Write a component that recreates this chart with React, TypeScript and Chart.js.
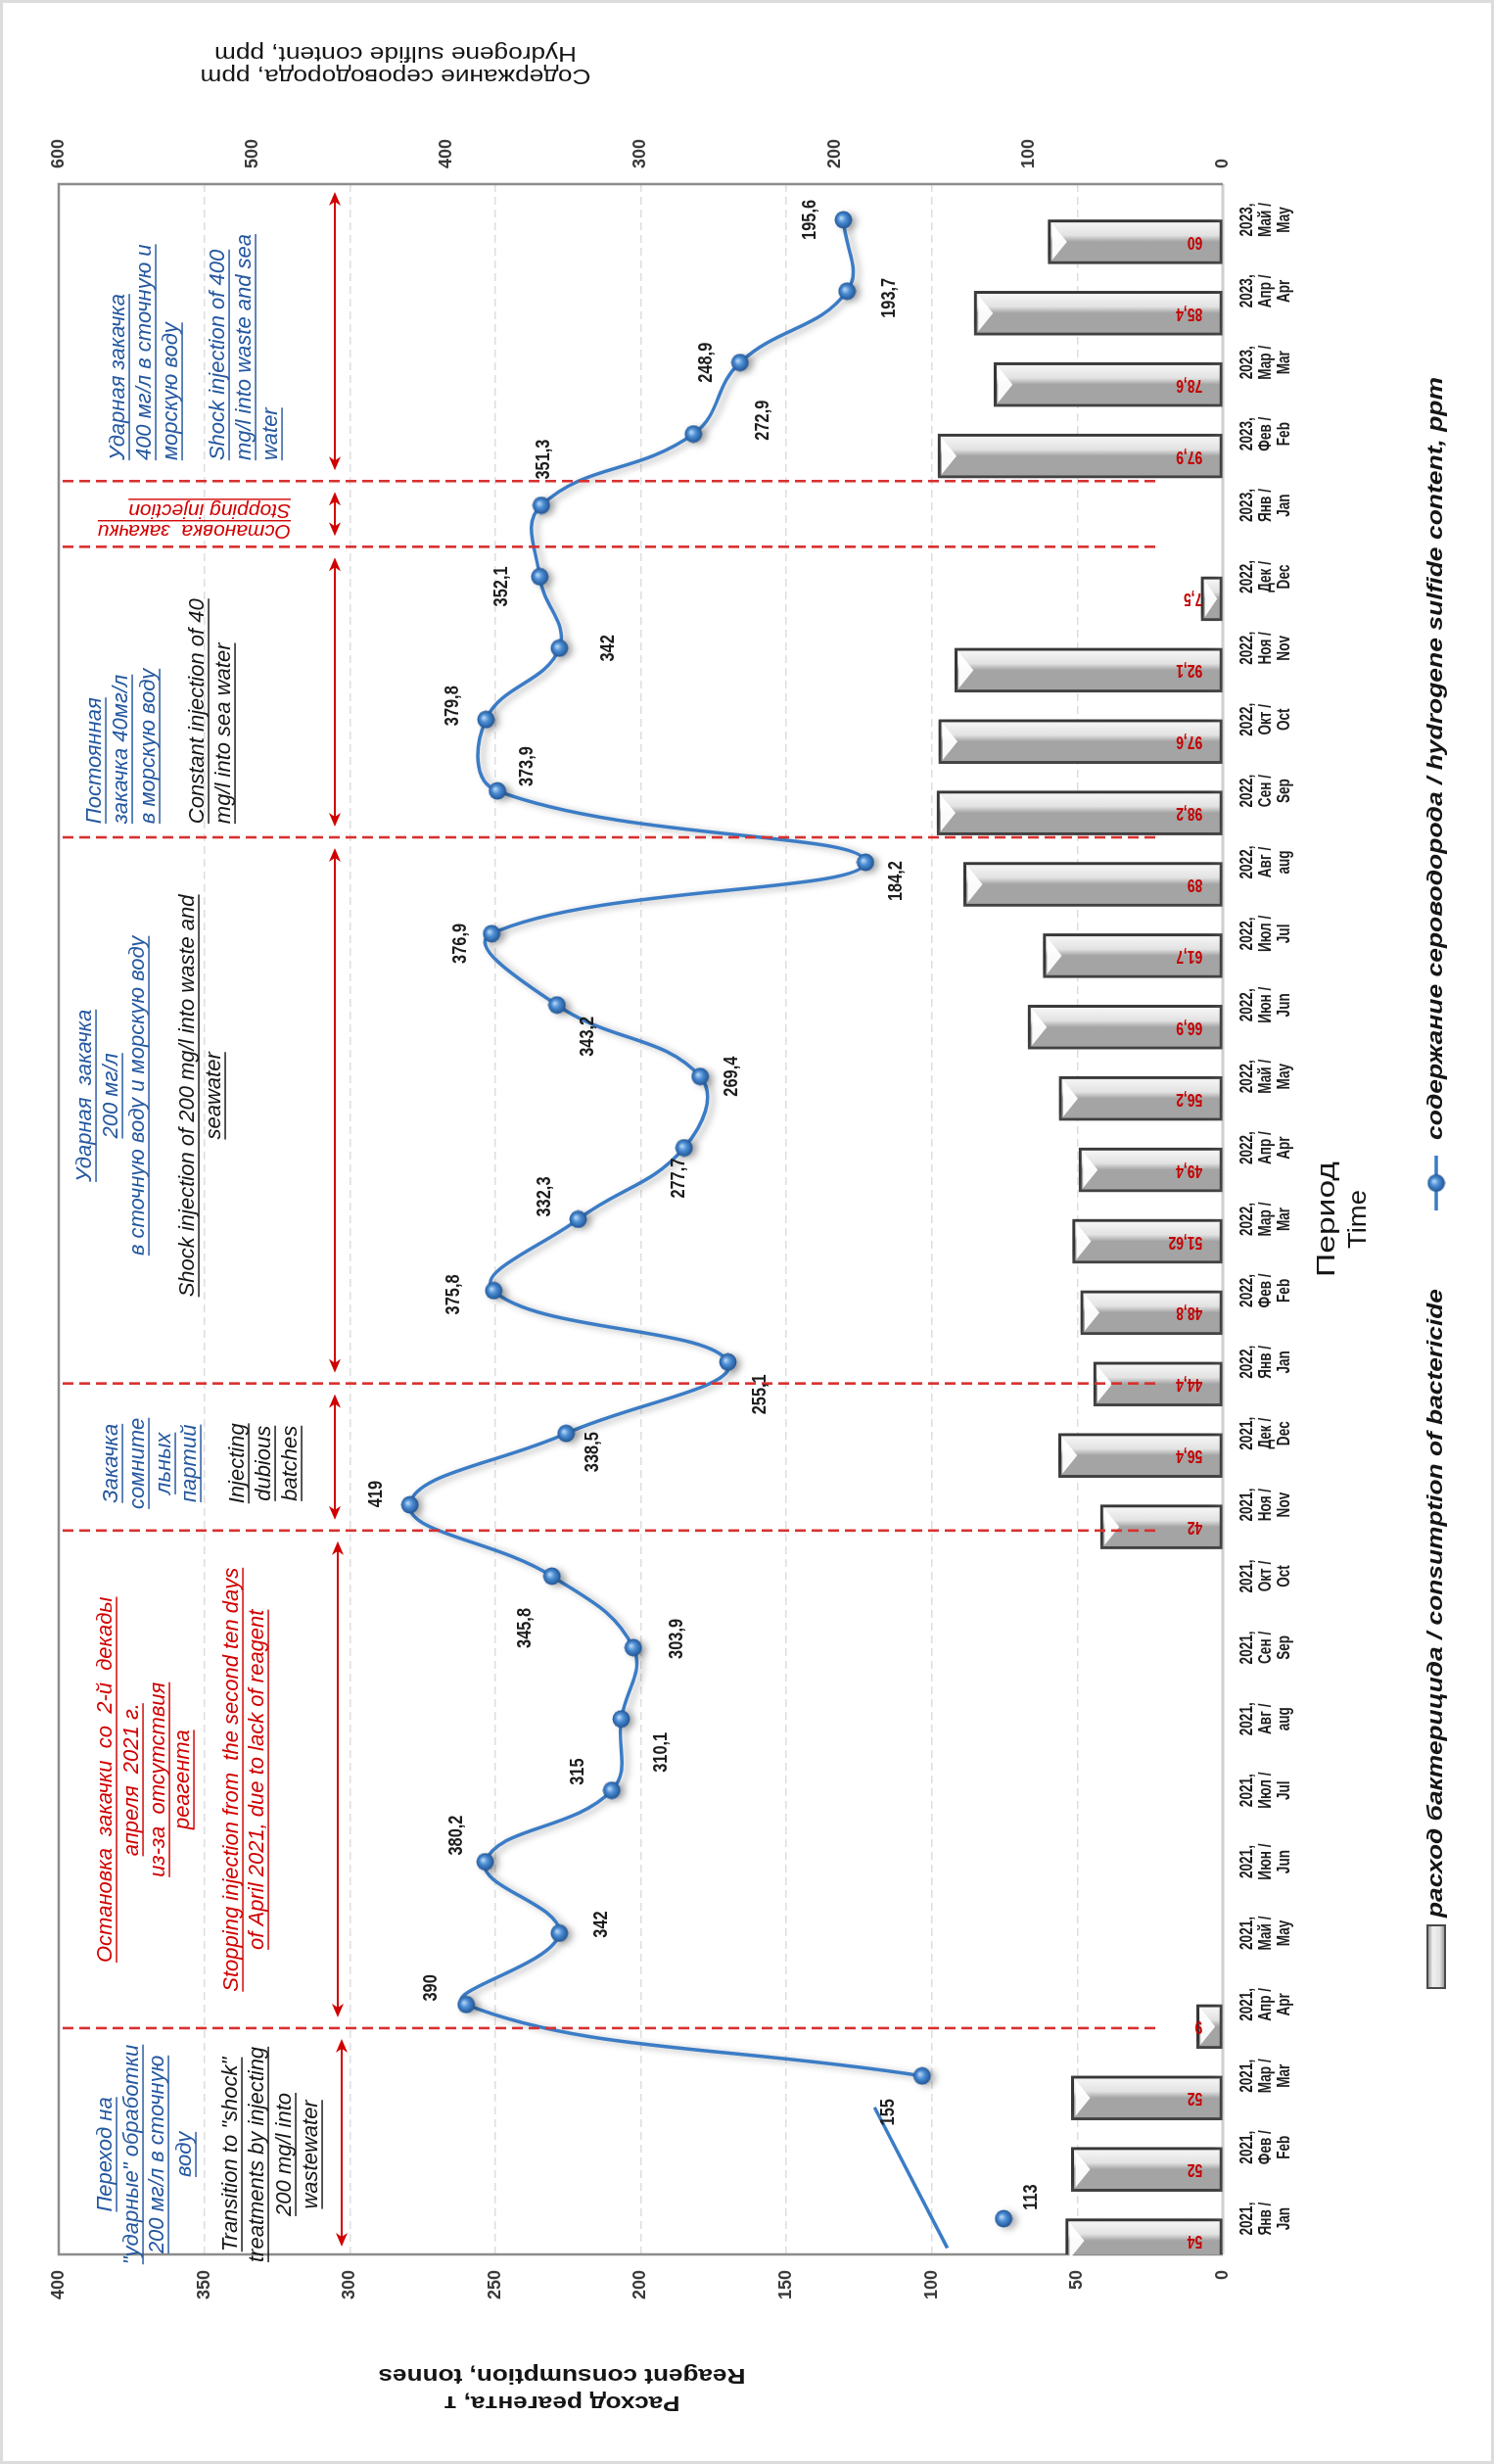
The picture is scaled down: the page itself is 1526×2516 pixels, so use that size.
import { useEffect, useRef } from "react";
import Chart from "chart.js/auto";

const years = [
  "2021", "2021", "2021", "2021", "2021", "2021", "2021", "2021", "2021", "2021", "2021", "2021",
  "2022", "2022", "2022", "2022", "2022", "2022", "2022", "2022", "2022", "2022", "2022", "2022",
  "2023", "2023", "2023", "2023", "2023",
];
const monthsRu = [
  "Янв", "Фев", "Мар", "Апр", "Май", "Июн", "Июл", "Авг", "Сен", "Окт", "Ноя", "Дек",
  "Янв", "Фев", "Мар", "Апр", "Май", "Июн", "Июл", "Авг", "Сен", "Окт", "Ноя", "Дек",
  "Янв", "Фев", "Мар", "Апр", "Май",
];
const monthsEn = [
  "Jan", "Feb", "Mar", "Apr", "May", "Jun", "Jul", "aug", "Sep", "Oct", "Nov", "Dec",
  "Jan", "Feb", "Mar", "Apr", "May", "Jun", "Jul", "aug", "Sep", "Oct", "Nov", "Dec",
  "Jan", "Feb", "Mar", "Apr", "May",
];

// расход бактерицида, т (left axis)
const consumption: (number | null)[] = [
  54, 52, 52, 9, null, null, null, null, null, null, 42, 56.4,
  44.4, 48.8, 51.62, 49.4, 56.2, 66.9, 61.7, 89, 98.2, 97.6, 92.1, 7.5,
  null, 97.9, 78.6, 85.4, 60,
];

// содержание сероводорода, ppm (right axis)
const h2s: (number | null)[] = [
  113, null, 155, 390, 342, 380.2, 315, 310.1, 303.9, 345.8, 419, 338.5,
  255.1, 375.8, 332.3, 277.7, 269.4, 343.2, 376.9, 184.2, 373.9, 379.8, 342, 352.1,
  351.3, 272.9, 248.9, 193.7, 195.6,
];

// where each ppm label sits relative to its point (px)
const h2sLabelShift: ([number, number] | null)[] = [
  [22, 28], null, [-37, -34], [17, -36], [9, 43], [27, -29], [19, -34], [-34, 41], [9, 45], [-53, -27], [11, -34], [-19, 27],
  [-33, 33], [-4, -41], [23, -34], [-31, -5], [0, 32], [-32, 32], [-10, -32], [-19, 32], [25, 30], [14, -34], [0, 50], [-10, -39],
  [47, 3], [14, 71], [0, -34], [-7, 43], [0, -34],
];

// the short straight stroke near the first months (category units, ppm)
const strayLine = [
  { x: -0.41, y: 142 },
  { x: 1.56, y: 179.5 },
];

// borders between the treatment phases, in category units
const phaseBorders = [2.67, 9.64, 11.7, 19.35, 23.42, 24.34];

const FAMILY = '"Liberation Sans", Arial, Helvetica, sans-serif';
const BLUE = "#24579f";
const RED = "#d10000";
const INK = "#151515";
const LINE_BLUE = "#3b7cc6";

type NoteLine = [string, string, number];
const notes: { at: number; align: CanvasTextAlign; lines: NoteLine[] }[] = [
  {
    at: 0.9, align: "center", lines: [
      ["Переход на", BLUE, 48], ['"ударные" обработки', BLUE, 75], ["200 мг/л в сточную", BLUE, 101], ["воду", BLUE, 129],
      ['Transition to "shock"', INK, 176], ["treatments by injecting", INK, 203], ["200 mg/l into", INK, 231], ["wastewater", INK, 258],
    ],
  },
  {
    at: 6.15, align: "center", lines: [
      ["Остановка  закачки  со  2-й  декады", RED, 48], ["апреля  2021 г.", RED, 75], ["из-за  отсутствия", RED, 102], ["реагента", RED, 127],
      ["Stopping injection from  the second ten days", RED, 177], ["of April 2021, due to lack of reagent", RED, 203],
    ],
  },
  {
    at: 10.58, align: "center", lines: [
      ["Закачка", BLUE, 54], ["сомните", BLUE, 81], ["льных", BLUE, 108], ["партий", BLUE, 134],
      ["Injecting", INK, 183], ["dubious", INK, 210], ["batches", INK, 237],
    ],
  },
  {
    at: 15.73, align: "center", lines: [
      ["Ударная  закачка", BLUE, 27], ["200 мг/л", BLUE, 54], ["в сточную воду и морскую воду", BLUE, 81],
      ["Shock injection of 200 mg/l into waste and", INK, 132], ["seawater", INK, 159],
    ],
  },
  {
    at: 19.54, align: "left", lines: [
      ["Постоянная", BLUE, 37], ["закачка 40мг/л", BLUE, 64], ["в морскую воду", BLUE, 92],
      ["Constant injection of 40", INK, 142], ["mg/l into sea water", INK, 169],
    ],
  },
  {
    at: 24.63, align: "left", lines: [
      ["Ударная закачка", BLUE, 61], ["400 мг/л в сточную и", BLUE, 88], ["морскую воду", BLUE, 115],
      ["Shock injection of 400", BLUE, 163], ["mg/l into waste and sea", BLUE, 190], ["water", BLUE, 217],
    ],
  },
];
const stopNote: [string, number][] = [["Остановка  закачки", 23.64], ["Stopping injection", 23.94]];
const arrowRows = [289, 285, 282, 282, 282, 282, 282];

type TextOpt = {
  size: number; weight?: string; italic?: boolean; color?: string; align?: CanvasTextAlign;
  rot?: number; k?: number; width?: number; underline?: boolean;
};

const fontOf = (o: TextOpt) => `${o.italic ? "italic " : ""}${o.weight ?? "normal"} ${o.size}px ${FAMILY}`;

function fitK(ctx: CanvasRenderingContext2D, o: TextOpt, sample: string, target: number) {
  ctx.save();
  ctx.font = fontOf(o);
  const w = ctx.measureText(sample).width;
  ctx.restore();
  return w > 0 ? target / w : 1;
}

function txt(ctx: CanvasRenderingContext2D, s: string, x: number, y: number, o: TextOpt) {
  ctx.save();
  ctx.translate(x, y);
  if (o.rot) ctx.rotate(o.rot);
  ctx.font = fontOf(o);
  const w = ctx.measureText(s).width;
  const k = o.width ? o.width / w : o.k ?? 1;
  ctx.scale(k, 1);
  const align = o.align ?? "center";
  ctx.fillStyle = o.color ?? INK;
  ctx.textAlign = align;
  ctx.textBaseline = "middle";
  ctx.fillText(s, 0, 0);
  if (o.underline) {
    const x0 = align === "left" ? 0 : align === "right" ? -w : -w / 2;
    ctx.fillRect(x0, o.size * 0.47, w, Math.max(1.3, o.size * 0.065));
  }
  ctx.restore();
}

function arrow(ctx: CanvasRenderingContext2D, x0: number, x1: number, y: number) {
  const h = 14, w = 6, n = 4;
  ctx.beginPath();
  ctx.moveTo(x0 + 4, y);
  ctx.lineTo(x1 - 4, y);
  ctx.stroke();
  for (const [tip, dir] of [[x0, 1], [x1, -1]]) {
    ctx.beginPath();
    ctx.moveTo(tip, y);
    ctx.lineTo(tip + dir * h, y - w);
    ctx.lineTo(tip + dir * (h - n), y);
    ctx.lineTo(tip + dir * h, y + w);
    ctx.closePath();
    ctx.fill();
  }
}

const fmt = (v: number) => String(v).replace(".", ",");

function makeSphere(d: number): HTMLCanvasElement {
  const c = document.createElement("canvas");
  c.width = d;
  c.height = d;
  const g = c.getContext("2d")!;
  const r = d / 2;
  const grad = g.createRadialGradient(r * 1.2, r * 0.75, 0.5, r, r, r);
  grad.addColorStop(0, "#b7d5f4");
  grad.addColorStop(0.4, "#4c8ed5");
  grad.addColorStop(1, "#1c4e8d");
  g.fillStyle = grad;
  g.beginPath();
  g.arc(r, r, r - 0.5, 0, Math.PI * 2);
  g.fill();
  return c;
}

const BAR_W = 45;

const barFill = (c: any) => {
  const chart = c.chart;
  const xs = chart.scales?.x;
  if (!xs || c.dataIndex === undefined) return "#e4e4e4";
  const cx = xs.getPixelForValue(c.dataIndex);
  if (!Number.isFinite(cx)) return "#e4e4e4";
  const g = chart.ctx.createLinearGradient(cx - BAR_W / 2, 0, cx + BAR_W / 2, 0);
  g.addColorStop(0, "#a4a4a4");
  g.addColorStop(0.15, "#e2e2e2");
  g.addColorStop(0.4, "#f3f3f3");
  g.addColorStop(0.75, "#e6e6e6");
  g.addColorStop(0.92, "#c9c9c9");
  g.addColorStop(1, "#999999");
  return g;
};

function makeDecor(sphere: HTMLCanvasElement) {
  return {
    id: "decor",
    beforeDraw(chart: any) {
      const { ctx, width, height } = chart;
      ctx.save();
      ctx.fillStyle = "#fff";
      ctx.fillRect(0, 0, width, height);
      ctx.strokeStyle = "#dcdcdc";
      ctx.lineWidth = 3;
      ctx.strokeRect(1.5, 1.5, width - 3, height - 3);
      ctx.restore();
    },
    beforeDatasetsDraw(chart: any) {
      const { ctx, chartArea: a } = chart;
      ctx.save();
      ctx.strokeStyle = "#cfcfcf";
      ctx.lineWidth = 3;
      ctx.beginPath();
      ctx.moveTo(a.left, a.bottom);
      ctx.lineTo(a.right, a.bottom);
      ctx.stroke();
      ctx.strokeStyle = "#8c8c8c";
      ctx.lineWidth = 2.5;
      ctx.beginPath();
      ctx.moveTo(a.left, a.bottom);
      ctx.lineTo(a.left, a.top);
      ctx.lineTo(a.right, a.top);
      ctx.lineTo(a.right, a.bottom);
      ctx.stroke();
      ctx.restore();
    },
    beforeDatasetDraw(chart: any, args: any) {
      const ctx = chart.ctx;
      ctx.save();
      if (args.index === 0) {
        ctx.shadowColor = "rgba(0,0,0,0.32)";
        ctx.shadowBlur = 9;
        ctx.shadowOffsetX = 3;
        ctx.shadowOffsetY = -4;
      } else if (args.index === 1) {
        ctx.shadowColor = "rgba(0,0,0,0.3)";
        ctx.shadowBlur = 7;
        ctx.shadowOffsetX = -2;
        ctx.shadowOffsetY = 5;
      }
    },
    afterDatasetDraw(chart: any, args: any) {
      const ctx = chart.ctx;
      ctx.restore();
      if (args.index !== 0) return;
      ctx.save();
      ctx.fillStyle = "rgba(255,255,255,0.95)";
      chart.getDatasetMeta(0).data.forEach((el: any, i: number) => {
        if (consumption[i] == null) return;
        const { x, y, base, width } = el.getProps(["x", "y", "base", "width"], true);
        const h = base - y;
        if (!(h >= 14)) return;
        const l = x - width / 2 + 4, r = x + width / 2 - 4, t = y + 4;
        const depth = Math.min(15, h - 9);
        ctx.beginPath();
        ctx.moveTo(l, t);
        ctx.lineTo(r, t);
        ctx.lineTo(x, t + depth);
        ctx.closePath();
        ctx.fill();
      });
      ctx.restore();
    },
    afterDatasetsDraw(chart: any) {
      const { ctx, chartArea: a } = chart;
      const xl = chart.scales.xLin;
      ctx.save();
      ctx.strokeStyle = "#d93030";
      ctx.lineWidth = 2.6;
      ctx.setLineDash([11, 6]);
      for (const v of phaseBorders) {
        const px = xl.getPixelForValue(v);
        ctx.beginPath();
        ctx.moveTo(px, a.top + 4);
        ctx.lineTo(px, a.bottom - 66);
        ctx.stroke();
      }
      ctx.setLineDash([]);

      const edges = [-0.5, ...phaseBorders, 28.5];
      ctx.strokeStyle = RED;
      ctx.fillStyle = RED;
      ctx.lineWidth = 2;
      for (let i = 0; i < edges.length - 1; i++) {
        const x0 = xl.getPixelForValue(edges[i]) + (i === 0 ? 8 : 11);
        const x1 = xl.getPixelForValue(edges[i + 1]) - (i === edges.length - 2 ? 8 : 11);
        arrow(ctx, x0, x1, a.top + arrowRows[i]);
      }

      for (const n of notes) {
        const px = xl.getPixelForValue(n.at);
        for (const [s, color, dy] of n.lines) {
          txt(ctx, s, px, a.top + dy, { size: 22, italic: true, color, align: n.align, underline: true });
        }
      }
      for (const [s, at] of stopNote) {
        txt(ctx, s, xl.getPixelForValue(at), a.top + 237, {
          size: 21, italic: true, color: RED, align: "left", rot: -Math.PI / 2, underline: true,
        });
      }

      const barOpt: TextOpt = { size: 18, weight: "bold", color: "#c40000", align: "left", rot: -Math.PI / 2 };
      barOpt.k = fitK(ctx, barOpt, "44,4", 27);
      chart.getDatasetMeta(0).data.forEach((el: any, i: number) => {
        const v = consumption[i];
        if (v == null) return;
        txt(ctx, fmt(v), el.x, el.base - 20, barOpt);
      });

      const valOpt: TextOpt = { size: 20, weight: "bold", color: "#1d1d1d" };
      valOpt.k = fitK(ctx, valOpt, "338,5", 41);
      chart.getDatasetMeta(1).data.forEach((el: any, i: number) => {
        const v = h2s[i];
        const sh = h2sLabelShift[i];
        if (v == null || !sh) return;
        txt(ctx, fmt(v), el.x + sh[0], el.y + sh[1], valOpt);
      });
      ctx.restore();
    },
    afterDraw(chart: any) {
      const { ctx, chartArea: a } = chart;
      const { x, y, y2 } = chart.scales;
      ctx.save();

      const tickOpt: TextOpt = { size: 19, weight: "bold", color: "#1e1e1e" };
      tickOpt.k = fitK(ctx, tickOpt, "2021,", 34);
      for (let i = 0; i < years.length; i++) {
        const px = x.getPixelForValue(i);
        txt(ctx, years[i] + ",", px, a.bottom + 25, tickOpt);
        txt(ctx, monthsRu[i] + " /", px, a.bottom + 44, tickOpt);
        txt(ctx, monthsEn[i], px, a.bottom + 63, tickOpt);
      }

      const numOpt: TextOpt = { size: 18, weight: "bold", color: "#3a3a3a" };
      y.ticks.forEach((t: any) =>
        txt(ctx, String(t.value), a.left - 16, y.getPixelForValue(t.value), { ...numOpt, align: "right" })
      );
      y2.ticks.forEach((t: any) =>
        txt(ctx, String(t.value), a.right + 16, y2.getPixelForValue(t.value), { ...numOpt, align: "left" })
      );

      const leftTitle: TextOpt = { size: 22, weight: "bold", rot: -Math.PI / 2, color: INK };
      txt(ctx, "Расход реагента, т", 63, 574, { ...leftTitle, width: 241 });
      txt(ctx, "Reagent consumption, tonnes", 91, 574, { ...leftTitle, width: 375 });
      const rightTitle: TextOpt = { size: 22, rot: -Math.PI / 2, color: INK };
      txt(ctx, "Содержание сероводорода, ppm", a.right + 111, 404, { ...rightTitle, width: 399 });
      txt(ctx, "Hydrogene sulfide content, ppm", a.right + 134, 404, { ...rightTitle, width: 370 });

      const midX = (a.left + a.right) / 2;
      txt(ctx, "Период", midX, 1356, { size: 25, color: INK, width: 118 });
      txt(ctx, "Time", midX, 1388, { size: 25, color: INK, width: 60 });

      // legend
      const ly = 1467;
      const sw = ctx.createLinearGradient(0, ly - 9, 0, ly + 9);
      sw.addColorStop(0, "#8a8a8a");
      sw.addColorStop(0.3, "#f0f0f0");
      sw.addColorStop(0.7, "#e2e2e2");
      sw.addColorStop(1, "#8f8f8f");
      ctx.fillStyle = sw;
      ctx.fillRect(486, ly - 9, 64, 18);
      ctx.strokeStyle = "#4a4a4a";
      ctx.lineWidth = 2;
      ctx.strokeRect(486, ly - 9, 64, 18);
      const legOpt: TextOpt = { size: 22, weight: "bold", italic: true, color: INK, align: "left" };
      txt(ctx, "расход бактерицида / consumption of bactericide", 558, ly, { ...legOpt, width: 642 });
      ctx.strokeStyle = LINE_BLUE;
      ctx.lineWidth = 3.5;
      ctx.beginPath();
      ctx.moveTo(1280, ly);
      ctx.lineTo(1336, ly);
      ctx.stroke();
      ctx.drawImage(sphere, 1308 - sphere.width / 2, ly - sphere.height / 2);
      txt(ctx, "содержание сероводорода / hydrogene sulfide content, ppm", 1352, ly, { ...legOpt, width: 779 });
      ctx.restore();
    },
  };
}

export default function App() {
  const canvasRef = useRef<HTMLCanvasElement | null>(null);

  useEffect(() => {
    document.body.style.margin = "0";
    document.documentElement.style.overflow = "hidden";
    const canvas = canvasRef.current;
    if (!canvas) return;
    const sphere = makeSphere(19);
    const labels = years.map((yr, i) => [yr + ",", monthsRu[i] + " /", monthsEn[i]]);

    const chart = new Chart(canvas, {
      type: "bar",
      data: {
        labels,
        datasets: [
          {
            type: "bar",
            label: "расход бактерицида / consumption of bactericide",
            data: consumption,
            yAxisID: "y",
            xAxisID: "x",
            order: 2,
            backgroundColor: barFill,
            borderColor: "#454545",
            borderWidth: 3,
            borderSkipped: false,
            barThickness: BAR_W,
          },
          {
            type: "line",
            label: "содержание сероводорода / hydrogene sulfide content, ppm",
            data: h2s,
            yAxisID: "y2",
            xAxisID: "x",
            order: 0,
            borderColor: LINE_BLUE,
            borderWidth: 3.5,
            tension: 0.42,
            pointStyle: sphere,
            pointRadius: 9,
            spanGaps: false,
          },
          {
            type: "line",
            label: "stray",
            data: strayLine,
            yAxisID: "y2",
            xAxisID: "xLin",
            order: 1,
            borderColor: LINE_BLUE,
            borderWidth: 3.5,
            tension: 0,
            pointRadius: 0,
          },
        ],
      } as any,
      options: {
        animation: false,
        responsive: false,
        layout: { padding: { top: 60, left: 0, right: 0, bottom: 0 } },
        plugins: { legend: { display: false }, tooltip: { enabled: false } },
        scales: {
          x: {
            type: "category",
            offset: true,
            grid: { display: false },
            border: { display: false },
            ticks: { display: false },
            afterFit: (s: any) => { s.height = 277; },
          },
          xLin: { type: "linear", display: false, offset: false, grid: { offset: false }, min: -0.5, max: 28.5 },
          y: {
            position: "left",
            min: 0,
            max: 400,
            ticks: { stepSize: 50, display: false },
            grid: { color: "#dedede", lineWidth: 1.4, drawTicks: false },
            border: { display: false, dash: [8, 5] },
            afterFit: (s: any) => { s.width = 214; },
          },
          y2: {
            position: "right",
            min: 0,
            max: 600,
            ticks: { stepSize: 100, display: false },
            grid: { display: false },
            border: { display: false },
            afterFit: (s: any) => { s.width = 188; },
          },
        },
      } as any,
      plugins: [makeDecor(sphere)],
    });

    return () => chart.destroy();
  }, []);

  return (
    <div
      style={{
        position: "absolute",
        left: 0,
        top: 0,
        width: 2516,
        height: 1526,
        transformOrigin: "0 0",
        transform: "translateY(2516px) rotate(-90deg)",
        background: "#fff",
      }}
    >
      <canvas ref={canvasRef} width={2516} height={1526} style={{ width: 2516, height: 1526, display: "block" }} />
    </div>
  );
}
